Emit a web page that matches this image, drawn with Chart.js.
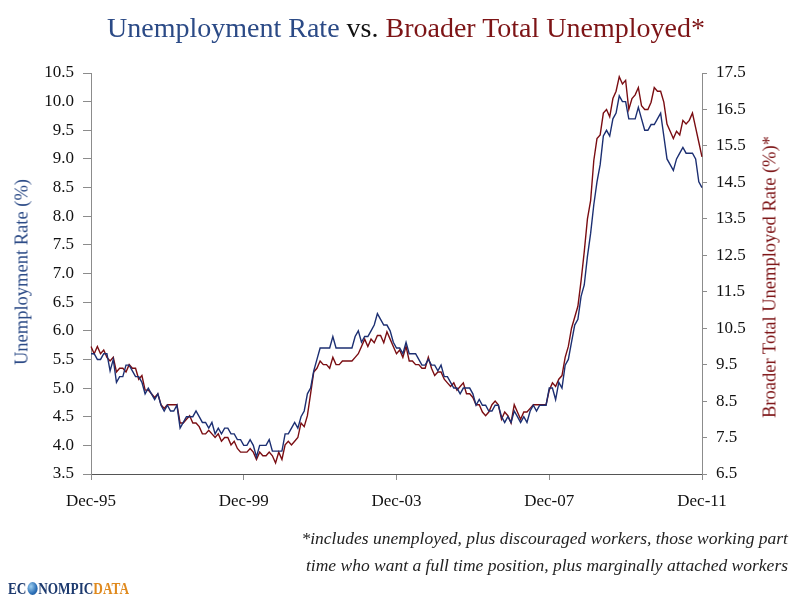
<!DOCTYPE html>
<html>
<head>
<meta charset="utf-8">
<script src="https://cdn.jsdelivr.net/npm/chart.js@4.4.1/dist/chart.umd.min.js"></script>
<style>
  body { margin: 0; background: #fff; }
  #wrap { position: relative; width: 800px; height: 600px; font-family: "Liberation Serif", serif; }
  #chart { position: absolute; left: 0; top: 0; }
  #title { position: absolute; left: 0; top: 12px; width: 812px; text-align: center; font-size: 28px; color: #111; }
  .blue { color: #2b4a86; }
  .red { color: #7d1416; }
  .ytitle { position: absolute; font-size: 18.5px; white-space: nowrap; transform: translate(-50%, -50%) rotate(-90deg); }
  #note { position: absolute; right: 12px; top: 525px; text-align: right; font-style: italic; font-size: 17.5px; line-height: 27px; color: #222; }
  #logo { position: absolute; left: 8px; top: 579px; font-family: "Liberation Serif", serif; font-weight: bold; font-size: 17px; color: #1d3a6e; transform: scaleX(0.78); transform-origin: left center; white-space: nowrap; }
  #logo .globe { display: inline-block; width: 13px; height: 13px; border-radius: 50%; background: radial-gradient(circle at 35% 35%, #9fd0f0, #2a6db5 60%, #1f4f8a); vertical-align: -1px; margin: 0 1px; }
  #logo .data { color: #e08a1e; }
</style>
</head>
<body>
<div id="wrap">
  <canvas id="chart" width="800" height="600"></canvas>
  <div id="title"><span class="blue">Unemployment Rate</span> vs. <span class="red">Broader Total Unemployed*</span></div>
  <div class="ytitle blue" style="left:22px; top:272px;">Unemployment Rate (%)</div>
  <div class="ytitle red" style="left:770px; top:277px;">Broader Total Unemployed Rate (%)*</div>
  <div id="note">*includes unemployed, plus discouraged workers, those working part<br>time who want a full time position, plus marginally attached workers</div>
  <div id="logo">EC<span class="globe"></span>NOMPIC<span class="data">DATA</span></div>
</div>
<script>
// monthly, Dec-95 through Dec-11
const firstYear = 1996;
const lastYear = 2011;

// headline unemployment rate (%), left axis
const unemploymentRate = [
  5.6,
  5.6, 5.5, 5.5, 5.6, 5.6, 5.3, 5.5, 5.1, 5.2, 5.2, 5.4, 5.4,
  5.3, 5.2, 5.2, 5.1, 4.9, 5.0, 4.9, 4.8, 4.9, 4.7, 4.6, 4.7,
  4.6, 4.6, 4.7, 4.3, 4.4, 4.5, 4.5, 4.5, 4.6, 4.5, 4.4, 4.4,
  4.3, 4.4, 4.2, 4.3, 4.2, 4.3, 4.3, 4.2, 4.2, 4.1, 4.1, 4.0,
  4.0, 4.1, 4.0, 3.8, 4.0, 4.0, 4.0, 4.1, 3.9, 3.9, 3.9, 3.9,
  4.2, 4.2, 4.3, 4.4, 4.3, 4.5, 4.6, 4.9, 5.0, 5.3, 5.5, 5.7,
  5.7, 5.7, 5.7, 5.9, 5.7, 5.7, 5.7, 5.7, 5.7, 5.7, 5.9, 6.0,
  5.8, 5.9, 5.9, 6.0, 6.1, 6.3, 6.2, 6.1, 6.1, 6.0, 5.8, 5.7,
  5.7, 5.6, 5.8, 5.6, 5.6, 5.6, 5.5, 5.4, 5.4, 5.5, 5.4, 5.4,
  5.3, 5.4, 5.2, 5.2, 5.1, 5.0, 5.0, 4.9, 5.0, 5.0, 5.0, 4.9,
  4.7, 4.8, 4.7, 4.7, 4.6, 4.6, 4.7, 4.7, 4.5, 4.4, 4.5, 4.4,
  4.6, 4.5, 4.4, 4.5, 4.4, 4.6, 4.7, 4.6, 4.7, 4.7, 4.7, 5.0,
  5.0, 4.8, 5.1, 5.0, 5.4, 5.5, 5.8, 6.1, 6.2, 6.6, 6.8, 7.3,
  7.7, 8.2, 8.6, 8.9, 9.4, 9.5, 9.4, 9.7, 9.8, 10.1, 10.0, 10.0,
  9.7, 9.7, 9.7, 9.9, 9.7, 9.5, 9.5, 9.6, 9.6, 9.7, 9.8, 9.4,
  9.0, 8.9, 8.8, 9.0, 9.1, 9.2, 9.1, 9.1, 9.1, 9.0, 8.6, 8.5
];

// broader total unemployed rate (%), right axis
const broaderRate = [
  10.0,
  9.8, 10.0, 9.8, 9.9, 9.7, 9.6, 9.7, 9.3, 9.4, 9.4, 9.3, 9.5,
  9.4, 9.4, 9.1, 9.2, 8.8, 8.8, 8.7, 8.6, 8.7, 8.4, 8.3, 8.4,
  8.4, 8.4, 8.4, 7.9, 7.9, 8.0, 8.1, 7.9, 7.9, 7.8, 7.6, 7.6,
  7.7, 7.6, 7.5, 7.6, 7.4, 7.5, 7.5, 7.3, 7.4, 7.2, 7.1, 7.1,
  7.1, 7.2, 7.1, 6.9, 7.1, 7.0, 7.0, 7.1, 7.0, 6.8, 7.1, 6.9,
  7.3, 7.4, 7.3, 7.4, 7.5, 7.9, 7.8, 8.1, 8.7, 9.3, 9.4, 9.6,
  9.5, 9.5, 9.4, 9.7, 9.5, 9.5, 9.6, 9.6, 9.6, 9.6, 9.7, 9.8,
  10.0, 10.2, 10.0, 10.2, 10.1, 10.3, 10.3, 10.1, 10.4, 10.2, 10.0, 9.8,
  9.9, 9.7, 10.0, 9.6, 9.6, 9.5, 9.5, 9.4, 9.4, 9.7, 9.4, 9.2,
  9.3, 9.3, 9.1, 9.0, 8.9, 9.0, 8.8, 8.9, 9.0, 8.7, 8.7, 8.6,
  8.4, 8.4, 8.2, 8.1, 8.2, 8.4, 8.5, 8.4, 8.0, 8.2, 8.1, 7.9,
  8.4, 8.2, 8.0, 8.2, 8.2, 8.3, 8.4, 8.4, 8.4, 8.4, 8.4, 8.8,
  9.0, 8.9, 9.1, 9.2, 9.7, 10.0, 10.5, 10.8, 11.1, 11.8, 12.6, 13.5,
  14.0, 15.1, 15.7, 15.8, 16.4, 16.5, 16.3, 16.8, 17.0, 17.4, 17.2, 17.3,
  16.5, 16.8, 16.9, 17.1, 16.6, 16.5, 16.5, 16.7, 17.1, 17.0, 17.0, 16.7,
  16.1, 15.9, 15.7, 15.9, 15.8, 16.2, 16.1, 16.2, 16.4, 16.0, 15.6, 15.2
];

// axis ranges and the labelled months
const leftTicks = [3.5, 10.5];
const rightTicks = [6.5, 17.5];
const shownLabels = ["Dec-95", "Dec-99", "Dec-03", "Dec-07", "Dec-11"];

const monthNames = ["Jan", "Feb", "Mar", "Apr", "May", "Jun", "Jul", "Aug", "Sep", "Oct", "Nov", "Dec"];
const labels = ["Dec-95"];
for (let y = firstYear; y <= lastYear; y++) {
  for (let m = 0; m < 12; m++) {
    labels.push(monthNames[m] + "-" + String(y).slice(2));
  }
}

const tickFont = { family: "Liberation Serif", size: 17 };
const axisGray = "#8c8c8c";

const ctx = document.getElementById("chart").getContext("2d");
new Chart(ctx, {
  type: "line",
  data: {
    labels: labels,
    datasets: [
      {
        label: "Unemployment Rate",
        data: unemploymentRate,
        borderColor: "#1c2f72",
        borderWidth: 1.4,
        pointRadius: 0,
        yAxisID: "y",
      },
      {
        label: "Broader Total Unemployed",
        data: broaderRate,
        borderColor: "#7a0d12",
        borderWidth: 1.4,
        pointRadius: 0,
        yAxisID: "y1",
      },
    ],
  },
  options: {
    responsive: false,
    animation: false,
    layout: { padding: { top: 73, left: 0, right: 0, bottom: 0 } },
    plugins: {
      legend: { display: false },
      tooltip: { enabled: false },
    },
    scales: {
      x: {
        type: "category",
        offset: false,
        afterFit: (scale) => { scale.height = 126; },
        afterBuildTicks: (scale) => {
          scale.ticks = scale.ticks.filter((t) => shownLabels.includes(labels[t.value]));
        },
        ticks: {
          autoSkip: false,
          maxRotation: 0,
          color: "#111",
          font: tickFont,
          padding: 11,
          callback: (value) => labels[value],
        },
        grid: { drawOnChartArea: false, drawTicks: true, tickLength: 6, color: axisGray },
        border: { display: true, color: "#555", width: 1 },
      },
      y: {
        position: "left",
        min: leftTicks[0],
        max: leftTicks[1],
        afterFit: (scale) => { scale.width = 91; },
        ticks: {
          stepSize: 0.5,
          color: "#111",
          font: tickFont,
          padding: 9,
          callback: (v) => v.toFixed(1),
        },
        grid: { drawOnChartArea: false, drawTicks: true, tickLength: 8, color: axisGray },
        border: { display: true, color: axisGray, width: 1 },
      },
      y1: {
        position: "right",
        min: rightTicks[0],
        max: rightTicks[1],
        afterFit: (scale) => { scale.width = 98; },
        ticks: {
          stepSize: 1,
          color: "#111",
          font: tickFont,
          padding: 9,
          callback: (v) => v.toFixed(1),
        },
        grid: { drawOnChartArea: false, drawTicks: true, tickLength: 5, color: axisGray },
        border: { display: true, color: axisGray, width: 1 },
      },
    },
  },
});
</script>
</body>
</html>
